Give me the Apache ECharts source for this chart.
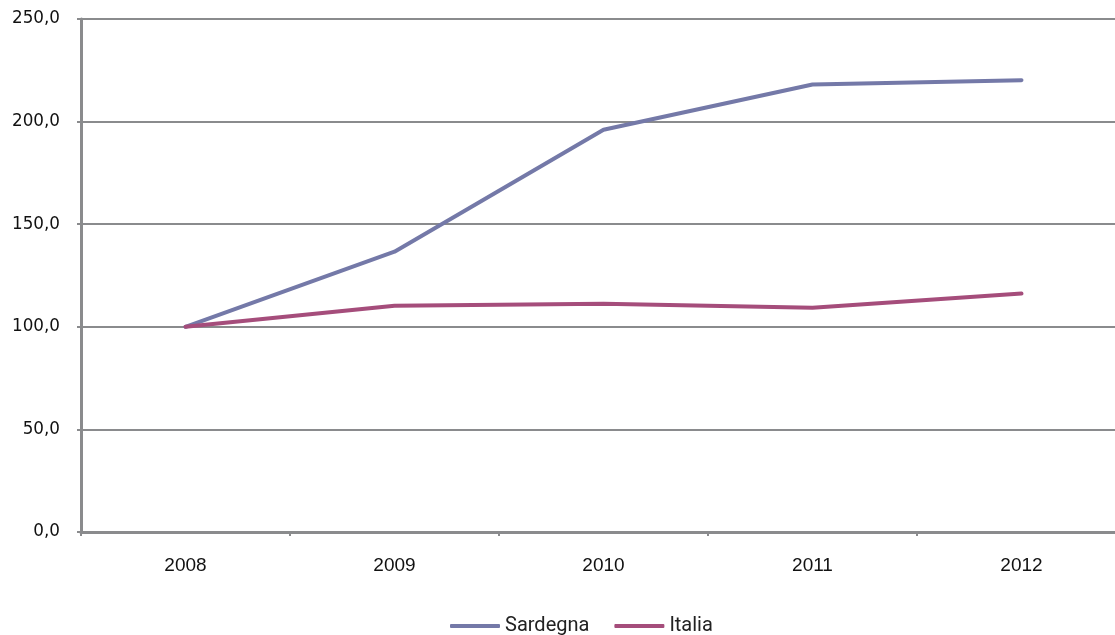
<!DOCTYPE html>
<html>
<head>
<meta charset="utf-8">
<script src="https://cdn.jsdelivr.net/npm/echarts@6/dist/echarts.min.js"></script>
<style>html,body{margin:0;padding:0;background:#fff;}#c{width:1115px;height:635px;}</style>
</head>
<body>
<div id="c"></div>
<script>
const categories = ['2008', '2009', '2010', '2011', '2012'];
const sardegna = [100.0, 136.6, 196.0, 218.1, 220.2];
const italia = [100.0, 110.3, 111.2, 109.3, 116.2];
const yTicks = { min: 0, max: 250, interval: 50 };

const chart = echarts.init(document.getElementById('c'), null, { renderer: 'canvas' });
const gray = '#8a8b8d';
chart.setOption({
  animation: false,
  backgroundColor: '#ffffff',
  grid: { left: 81, top: 19, width: 1045, height: 513, containLabel: false, outerBoundsMode: 'none' },
  legend: {
    top: 611,
    left: 445,
    icon: 'roundRect',
    itemWidth: 50,
    itemHeight: 4,
    itemGap: 25,
    textStyle: { fontFamily: 'Roboto', fontSize: 20, color: '#222' },
    data: ['Sardegna', 'Italia']
  },
  xAxis: {
    type: 'category',
    data: categories,
    boundaryGap: true,
    axisLine: { lineStyle: { color: gray, width: 3 } },
    axisTick: { show: true, length: 4, lineStyle: { color: gray, width: 2 } },
    axisLabel: { margin: 24, fontFamily: 'Liberation Sans', fontSize: 19, color: '#111' },
    splitLine: { show: false }
  },
  yAxis: {
    type: 'value',
    min: yTicks.min,
    max: yTicks.max,
    interval: yTicks.interval,
    axisLine: { show: true, lineStyle: { color: gray, width: 3 } },
    axisTick: { show: true, length: 4, lineStyle: { color: gray, width: 2 } },
    axisLabel: {
      margin: 21, fontFamily: 'DejaVu Sans', fontSize: 16.8, color: '#111',
      formatter: v => v.toFixed(1).replace('.', ',')
    },
    splitLine: { show: true, lineStyle: { color: gray, width: 2 } }
  },
  series: [
    {
      name: 'Sardegna', type: 'line', data: sardegna,
      symbol: 'none', lineStyle: { color: '#7479a8', width: 4, cap: 'round', join: 'round' },
      itemStyle: { color: '#7479a8' }
    },
    {
      name: 'Italia', type: 'line', data: italia,
      symbol: 'none', lineStyle: { color: '#a54d7b', width: 4, cap: 'round', join: 'round' },
      itemStyle: { color: '#a54d7b' }
    }
  ]
});
</script>
</body>
</html>
